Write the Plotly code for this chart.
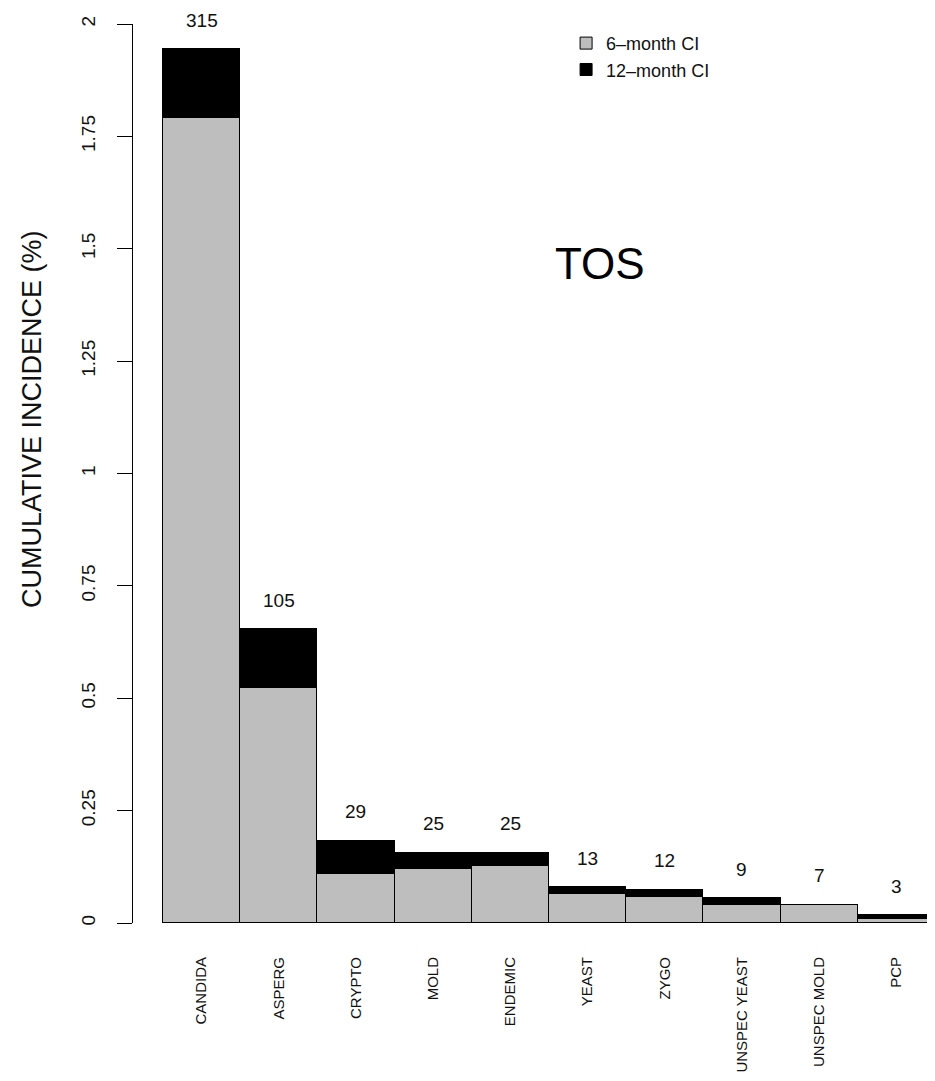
import plotly.graph_objects as go

categories = ["CANDIDA", "ASPERG", "CRYPTO", "MOLD", "ENDEMIC", "YEAST", "ZYGO",
              "UNSPEC YEAST", "UNSPEC MOLD", "PCP"]
ci_6month = [1.792, 0.523, 0.108, 0.120, 0.126, 0.064, 0.058, 0.039, 0.041, 0.0095]
ci_12month = [1.944, 0.654, 0.183, 0.156, 0.156, 0.0795, 0.074, 0.055, 0.041, 0.017]
counts = [315, 105, 29, 25, 25, 13, 12, 9, 7, 3]
ytick_vals = [0, 0.25, 0.5, 0.75, 1, 1.25, 1.5, 1.75, 2]
ytick_text = ["0", "0.25", "0.5", "0.75", "1", "1.25", "1.5", "1.75", "2"]

FONT = "Liberation Sans, Arial, Helvetica, sans-serif"

x_idx = list(range(len(categories)))
extra = [b - a for a, b in zip(ci_6month, ci_12month)]

fig = go.Figure()
fig.add_trace(go.Bar(
    x=x_idx, y=ci_6month, name="6\u2013month CI",
    marker=dict(color="#BEBEBE", line=dict(color="black", width=1)),
    width=1,
))
fig.add_trace(go.Bar(
    x=x_idx, y=extra, name="12\u2013month CI",
    marker=dict(color="black", line=dict(color="black", width=1)),
    width=1,
))

for i, (tot, c) in enumerate(zip(ci_12month, counts)):
    fig.add_annotation(x=i, y=tot, text=str(c), showarrow=False, yshift=29,
                       borderpad=0,
                       font=dict(family=FONT, size=19, color="#111"))

fig.add_annotation(x=0.582, y=0.763, xref="paper", yref="paper", text="TOS",
                   showarrow=False, font=dict(family=FONT, size=44, color="black"))

fig.add_annotation(x=0, y=0.5606, xref="paper", yref="paper",
                   text="CUMULATIVE INCIDENCE (%)", textangle=-90,
                   xanchor="center", yanchor="middle", xshift=-101,
                   showarrow=False, font=dict(family=FONT, size=27, color="#111"))

fig.update_layout(
    width=927, height=1073,
    margin=dict(l=125, r=0, t=16, b=158),
    barmode="stack", bargap=0,
    plot_bgcolor="white", paper_bgcolor="white",
    font=dict(family=FONT, color="#111"),
    showlegend=True,
    legend=dict(x=0.54, y=0.999, xanchor="left", yanchor="top",
                traceorder="normal", font=dict(family=FONT, size=18, color="#111"),
                bgcolor="rgba(0,0,0,0)", itemclick=False, tracegroupgap=0),
    xaxis=dict(range=[-0.888, 9.5], tickmode="array", tickvals=x_idx,
               ticktext=categories, tickangle=-90, showline=False, ticks="",
               showgrid=False, zeroline=False, ticklabelstandoff=30,
               tickfont=dict(family=FONT, size=15, color="#111")),
    yaxis=dict(range=[0, 2], tickmode="array", tickvals=ytick_vals,
               ticktext=ytick_text, tickangle=-90, showline=True,
               linecolor="black", linewidth=1, ticks="outside", ticklen=15,
               tickcolor="black", showgrid=False, zeroline=False,
               ticklabelstandoff=14,
               tickfont=dict(family=FONT, size=19, color="#111")),
)

fig.write_html("out.html")
